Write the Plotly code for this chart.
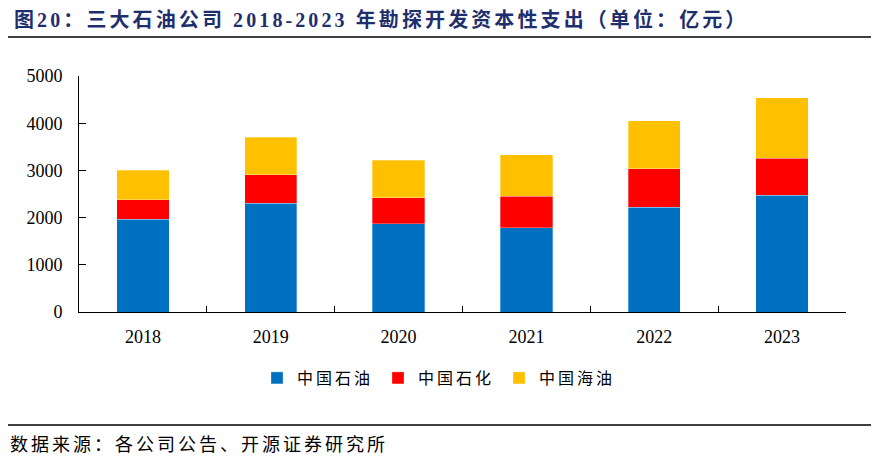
import plotly.graph_objects as go

years = ["2018", "2019", "2020", "2021", "2022", "2023"]
cnpc = [1962, 2300, 1869, 1785, 2215, 2475]
sinopec = [413, 603, 549, 669, 823, 780]
cnooc = [627, 795, 795, 879, 1013, 1287]

names = ["中国石油", "中国石化", "中国海油"]
colors = ["#0070C0", "#FF0000", "#FFC000"]

OFF = 8  # browser body margin
W, H = 882 - OFF, 459 - OFF
L, R, T, B = 79 - OFF, 846 - OFF, 76 - OFF, 312 - OFF

def px(x):
    return (x - OFF - L) / (R - L)

def py(y):
    return (B - (y - OFF)) / (B - T)

def spaced(s, sp):
    return '<span style="letter-spacing:%spx">%s</span>' % (sp, s)

fig = go.Figure()
for name, vals, c in zip(names, [cnpc, sinopec, cnooc], colors):
    fig.add_trace(go.Bar(x=years, y=vals, name=spaced(name, 3),
                         marker=dict(color=c, line=dict(width=0.6, color="rgba(255,255,255,0.5)"))))

cjk = "Noto Sans CJK SC"
serif = "Liberation Serif, Times New Roman, serif"

fig.update_layout(
    width=W, height=H,
    barmode="stack", bargap=0.59,
    plot_bgcolor="white", paper_bgcolor="white",
    margin=dict(l=L, r=W - R, t=T, b=H - B),
    showlegend=True,
    legend=dict(orientation="h", x=px(439), xanchor="center", y=py(378), yanchor="middle",
                font=dict(family=cjk, size=16, color="#000"), traceorder="normal",
                itemwidth=30, tracegroupgap=0),
    xaxis=dict(showline=True, linecolor="#000", linewidth=1, ticks="inside", ticklen=6,
               tickcolor="#000", tickson="boundaries", ticklabelstandoff=8,
               tickfont=dict(family=serif, size=18, color="#000"), showgrid=False),
    yaxis=dict(range=[0, 5000], dtick=1000, showline=True, linecolor="#000", linewidth=1,
               ticks="inside", ticklen=7, tickcolor="#000", showgrid=False, zeroline=False,
               ticklabelstandoff=12,
               tickfont=dict(family=serif, size=18, color="#000")),
    annotations=[
        dict(text="<b>" + spaced("图20：三大石油公司 2018-2023 年勘探开发资本性支出（单位：亿元）", 3.1) + "</b>",
             xref="paper", yref="paper", x=px(12), y=py(20), xanchor="left", yanchor="middle",
             showarrow=False, font=dict(family="Liberation Serif, " + cjk, size=20, color="#1F2F6E")),
        dict(text=spaced("数据来源：各公司公告、开源证券研究所", 3),
             xref="paper", yref="paper", x=px(8), y=py(443), xanchor="left", yanchor="middle",
             showarrow=False, font=dict(family=cjk, size=18, color="#000")),
    ],
    shapes=[
        dict(type="line", xref="paper", yref="paper", x0=px(8), x1=px(871), y0=py(37), y1=py(37),
             line=dict(color="#000", width=1.5)),
        dict(type="line", xref="paper", yref="paper", x0=px(8), x1=px(871), y0=py(425), y1=py(425),
             line=dict(color="#000", width=1.5)),
    ],
)

fig.write_html("out.html")
